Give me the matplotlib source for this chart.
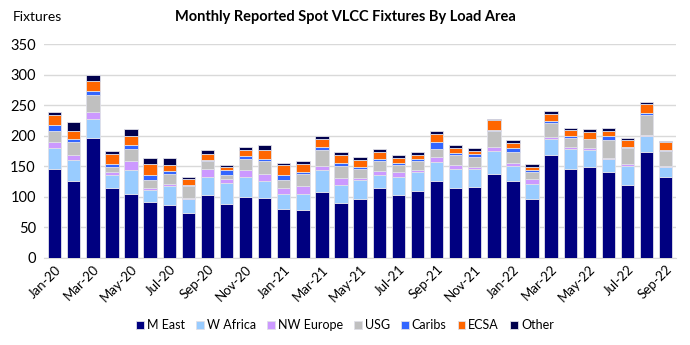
import matplotlib
matplotlib.use("Agg")
import matplotlib.pyplot as plt
import numpy as np

plt.rcParams['font.family'] = ['Lato', 'DejaVu Sans']

months = ["Jan-20", "Feb-20", "Mar-20", "Apr-20", "May-20", "Jun-20", "Jul-20", "Aug-20",
          "Sep-20", "Oct-20", "Nov-20", "Dec-20", "Jan-21", "Feb-21", "Mar-21", "Apr-21",
          "May-21", "Jun-21", "Jul-21", "Aug-21", "Sep-21", "Oct-21", "Nov-21", "Dec-21",
          "Jan-22", "Feb-22", "Mar-22", "Apr-22", "May-22", "Jun-22", "Jul-22", "Aug-22",
          "Sep-22"]

m_east = [145, 125, 196, 114, 104, 91, 87, 74, 102, 88, 100, 98, 80, 78, 107, 89, 97,
          115, 103, 110, 126, 115, 116, 137, 126, 96, 168, 145, 148, 140, 119, 174, 132]
w_africa = [35, 35, 32, 22, 40, 20, 30, 23, 31, 34, 32, 28, 25, 26, 36, 30, 31,
            21, 29, 31, 31, 30, 29, 38, 25, 24, 26, 33, 29, 22, 32, 26, 17]
nw_europe = [10, 8, 10, 5, 15, 4, 3, 1, 12, 7, 12, 12, 10, 13, 8, 12, 2,
             6, 8, 3, 8, 7, 4, 7, 5, 9, 4, 3, 2, 2, 2, 1, 1]
usg = [17, 22, 29, 7, 19, 12, 17, 20, 14, 7, 17, 21, 13, 20, 25, 20, 16,
       16, 12, 14, 13, 16, 16, 25, 18, 12, 23, 16, 15, 29, 26, 33, 25]
caribs = [10, 4, 6, 6, 7, 9, 5, 1, 1, 7, 5, 3, 7, 4, 6, 5, 2,
          4, 3, 3, 11, 3, 5, 3, 5, 2, 3, 3, 1, 7, 3, 3, 2]
ecsa = [17, 14, 16, 16, 14, 18, 10, 10, 10, 6, 11, 15, 17, 13, 12, 13, 12,
        12, 8, 7, 14, 9, 5, 16, 9, 6, 12, 10, 11, 8, 11, 15, 12]
other = [4, 14, 11, 5, 12, 9, 11, 4, 6, 3, 5, 7, 4, 5, 6, 5, 5,
         4, 5, 5, 5, 4, 4, 2, 5, 5, 5, 3, 5, 5, 4, 4, 2]

names = ["M East", "W Africa", "NW Europe", "USG", "Caribs", "ECSA", "Other"]
colors = ["#000080", "#99CCFF", "#CC99FF", "#C0C0C0", "#3366FF", "#FF6600", "#00004D"]
series = [m_east, w_africa, nw_europe, usg, caribs, ecsa, other]

fig = plt.figure(figsize=(6.9, 3.45), dpi=100)
ax = fig.add_axes([0.064, 0.253, 0.916, 0.619])

x = np.arange(len(months))
bottom = np.zeros(len(months))
for name, col, vals in zip(names, colors, series):
    ax.bar(x, vals, 0.7, bottom=bottom, color=col, label=name,
           edgecolor="#e0e0e8", linewidth=0.6, zorder=3)
    bottom += np.array(vals)

ax.set_xlim(-0.55, len(months) - 0.45)
ax.set_ylim(0, 350)
ax.set_yticks(range(0, 351, 50))
ax.yaxis.grid(True, color="#d9d9d9", linewidth=1, zorder=0)
ax.tick_params(axis='y', length=0, labelsize=10.5, pad=6)
ax.set_xticks(x[::2])
ax.set_xticklabels(months[::2], rotation=45, ha='right', rotation_mode='anchor', fontsize=9.5)
ax.tick_params(axis='x', length=0, pad=4)
for s in ["top", "right", "left"]:
    ax.spines[s].set_visible(False)
ax.spines["bottom"].set_color("#d9d9d9")

fig.text(0.5, 0.95, "Monthly Reported Spot VLCC Fixtures By Load Area",
         ha='center', va='center', fontsize=10.5, fontweight='bold')
fig.text(0.018, 0.95, "Fixtures", ha='left', va='center', fontsize=10)

fig.legend(loc='center', bbox_to_anchor=(0.5, 0.058), ncol=7, frameon=False,
           fontsize=9, handlelength=0.6, handleheight=0.6, handletextpad=0.25,
           columnspacing=0.9)

fig.savefig("out.png", dpi=100)
